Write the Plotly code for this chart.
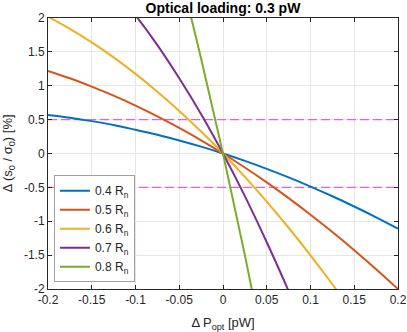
import plotly.graph_objects as go

dP = [-0.2, -0.175, -0.15, -0.125, -0.1, -0.075, -0.05, -0.025, 0.0,
      0.025, 0.05, 0.075, 0.1, 0.125, 0.15, 0.175, 0.2]

r04 = [0.57, 0.528, 0.478, 0.42, 0.35, 0.277, 0.193, 0.101, 0.0,
       -0.109, -0.227, -0.353, -0.488, -0.631, -0.782, -0.942, -1.11]
r05 = [1.22, 1.11, 0.988, 0.854, 0.708, 0.549, 0.378, 0.195, 0.0,
       -0.207, -0.427, -0.659, -0.903, -1.158, -1.427, -1.707, -2.0]
r06 = [2.02, 1.84, 1.64, 1.418, 1.175, 0.912, 0.629, 0.324, 0.0,
       -0.345, -0.71, -1.096, -1.503, -1.93, -2.377, -2.845, -3.33]
r07 = [3.31, 3.065, 2.77, 2.43, 2.04, 1.60, 1.11, 0.58, 0.0,
       -0.63, -1.31, -2.03, -2.80, -3.62, -4.49, -5.40, -6.37]
r08 = [8.4, 7.7, 6.9, 6.0, 5.0, 3.9, 2.7, 1.4, 0.0,
       -1.5, -3.1, -4.8, -6.6, -8.5, -10.5, -12.6, -14.8]

series = [("0.4 R<sub>n</sub>", r04, "#0072BD"),
          ("0.5 R<sub>n</sub>", r05, "#D95319"),
          ("0.6 R<sub>n</sub>", r06, "#EDB120"),
          ("0.7 R<sub>n</sub>", r07, "#7E2F8E"),
          ("0.8 R<sub>n</sub>", r08, "#77AC30")]

thresholds = [0.5, -0.5]

x_ticks = [-0.2, -0.15, -0.1, -0.05, 0, 0.05, 0.1, 0.15, 0.2]
x_labels = ["-0.2", "-0.15", "-0.1", "-0.05", "0", "0.05", "0.1", "0.15", "0.2"]
y_ticks = [-2, -1.5, -1, -0.5, 0, 0.5, 1, 1.5, 2]
y_labels = ["-2", "-1.5", "-1", "-0.5", "0", "0.5", "1", "1.5", "2"]

fig = go.Figure()
for th in thresholds:
    fig.add_trace(go.Scatter(x=[dP[0], dP[-1]], y=[th, th], mode="lines",
                             line=dict(color="#e85de8", width=1.2, dash="9px,4px"),
                             showlegend=False, hoverinfo="skip"))
for name, ys, col in series:
    fig.add_trace(go.Scatter(x=dP, y=ys, mode="lines", name=name,
                             line=dict(color=col, width=2, shape="spline", smoothing=1)))

axcommon = dict(showline=True, linecolor="#262626", linewidth=1, mirror="ticks",
                ticks="inside", ticklen=4, tickcolor="#262626", automargin=False,
                showgrid=True, gridcolor="#e6e6e6", gridwidth=1, zeroline=False,
                tickfont=dict(size=12, color="#262626"))

fig.update_layout(
    width=407, height=332,
    margin=dict(l=48, r=9, t=18, b=43),
    paper_bgcolor="white", plot_bgcolor="white",
    font=dict(family="Liberation Sans, Arial, sans-serif", color="#262626"),
    title=dict(text="<b>Optical loading: 0.3 pW</b>", x=(48 + 175) / 407, xanchor="center",
               y=0.99, yanchor="top", font=dict(size=14, color="black")),
    xaxis=dict(range=[-0.2, 0.2], tickvals=x_ticks, ticktext=x_labels,
               title=dict(text="Δ P<sub>opt</sub> [pW]", font=dict(size=13)),
               **axcommon),
    yaxis=dict(range=[-2, 2], tickvals=y_ticks, ticktext=y_labels,
               title=dict(text="Δ (s<sub>0</sub> / σ<sub>0</sub>) [%]", font=dict(size=13)),
               **axcommon),
    legend=dict(x=0.017, y=0.025, xanchor="left", yanchor="bottom",
                bgcolor="white", bordercolor="#a0a0a0", borderwidth=1,
                font=dict(size=12, color="#262626"), tracegroupgap=0,
                itemwidth=30),
)

fig.write_html("out.html", config={"displayModeBar": False},
               post_script="document.body.style.margin='0';")
